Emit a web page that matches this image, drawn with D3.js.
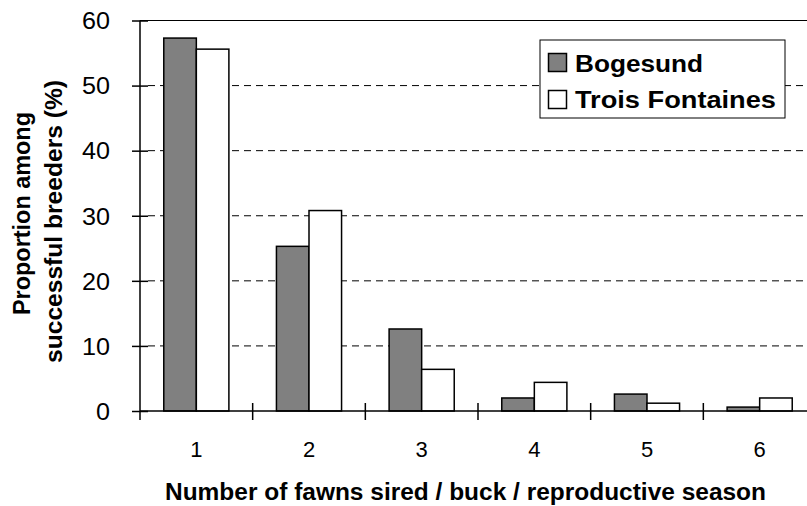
<!DOCTYPE html>
<html><head><meta charset="utf-8">
<script src="https://cdn.jsdelivr.net/npm/d3@7"></script>
<style>body{margin:0;background:#fff}svg{display:block}text{font-family:"Liberation Sans",Arial,sans-serif}</style>
</head><body>
<svg id="c" width="807" height="506"></svg>
<script>
const categories = ["1","2","3","4","5","6"];
const seriesNames = ["Bogesund","Trois Fontaines"];
const bogesund = [57.3, 25.3, 12.6, 2.0, 2.6, 0.6];
const troisFontaines = [55.6, 30.8, 6.4, 4.4, 1.2, 2.0];
const yTicks = [0,10,20,30,40,50,60];
const colors = ["#808080","#ffffff"];

(function(){
const svg = d3.select("#c");
const pLeft = 140, pRight = 816, pTop = 20.5, pBottom = 411;
const x = d3.scaleBand().domain(categories).range([pLeft, pRight]);
const y = d3.scaleLinear().domain([0,60]).range([pBottom, pTop]);
const bw = x.bandwidth()*0.289;

// grid
svg.append("g").selectAll("line").data(yTicks.filter(t=>t>0 && t<60)).join("line")
  .attr("x1", pLeft+8).attr("x2", 807).attr("y1", d=>y(d)).attr("y2", d=>y(d))
  .attr("stroke","#000").attr("stroke-width",1).attr("stroke-dasharray","7,5");
// top border
svg.append("line").attr("x1",pLeft).attr("x2",807).attr("y1",y(60)).attr("y2",y(60)).attr("stroke","#000").attr("stroke-width",1.2);

const series = [bogesund, troisFontaines];
series.forEach((vals,si)=>{
  svg.append("g").selectAll("rect").data(vals).join("rect")
    .attr("x",(d,i)=>x(categories[i])+x.bandwidth()/2 - bw + si*bw)
    .attr("y",d=>y(d)).attr("width",bw).attr("height",d=>y(0)-y(d))
    .attr("fill",colors[si]).attr("stroke","#000").attr("stroke-width",1.5);
});

// y axis
const ya = d3.axisLeft(y).tickValues(yTicks).tickSizeInner(8).tickSizeOuter(0).tickPadding(22);
const yg = svg.append("g").attr("transform",`translate(${pLeft},0)`).call(ya);
yg.select(".domain").attr("stroke-width",1.5).attr("d",`M0,${pTop}V${pBottom+9}`);
yg.selectAll(".tick line").attr("x1",-8).attr("x2",8).attr("stroke-width",1.5);
yg.selectAll(".tick text").attr("font-size",23).attr("fill","#000").attr("dy","0.36em")
  .attr("textLength",d=>String(d).length*14).attr("lengthAdjust","spacingAndGlyphs")
  .attr("font-family","Liberation Sans, Arial, sans-serif");

// x axis
const xb = d3.scaleLinear().domain([0,6]).range([pLeft,pRight]);
svg.append("line").attr("x1",pLeft).attr("x2",807).attr("y1",pBottom).attr("y2",pBottom).attr("stroke","#000").attr("stroke-width",1.5);
svg.append("g").selectAll("line").data(d3.range(1,6)).join("line")
  .attr("x1",d=>xb(d)).attr("x2",d=>xb(d)).attr("y1",pBottom-8).attr("y2",pBottom+9)
  .attr("stroke","#000").attr("stroke-width",1.5);
svg.append("g").selectAll("text").data(categories).join("text")
  .attr("x",d=>x(d)+x.bandwidth()/2).attr("y",457).attr("text-anchor","middle")
  .attr("font-size",22).text(d=>d);

// axis titles
svg.append("text").attr("x",465.5).attr("y",500).attr("text-anchor","middle")
  .attr("font-size",23).attr("font-weight","bold").attr("textLength",601).attr("lengthAdjust","spacingAndGlyphs")
  .text("Number of fawns sired / buck / reproductive season");
svg.append("text").attr("transform","translate(30,213.5) rotate(-90)").attr("text-anchor","middle")
  .attr("font-size",24.5).attr("font-weight","bold").attr("textLength",203).attr("lengthAdjust","spacingAndGlyphs")
  .text("Proportion among");
svg.append("text").attr("transform","translate(62,221.5) rotate(-90)").attr("text-anchor","middle")
  .attr("font-size",24.5).attr("font-weight","bold").attr("textLength",283).attr("lengthAdjust","spacingAndGlyphs")
  .text("successful breeders (%)");

// legend
const legendLen = [128, 201];
const lg = svg.append("g");
lg.append("rect").attr("x",540).attr("y",40).attr("width",245).attr("height",78).attr("fill","#fff").attr("stroke","#000").attr("stroke-width",1);
seriesNames.forEach((n,i)=>{
  lg.append("rect").attr("x",548.5).attr("y",53.5+i*37).attr("width",18).attr("height",18)
    .attr("fill",colors[i]).attr("stroke","#000").attr("stroke-width",1.5);
  lg.append("text").attr("x",575).attr("y",71.5+i*36.7).attr("font-size",23).attr("font-weight","bold")
    .attr("textLength",legendLen[i]).attr("lengthAdjust","spacingAndGlyphs").text(n);
});
})();
</script>
</body></html>
